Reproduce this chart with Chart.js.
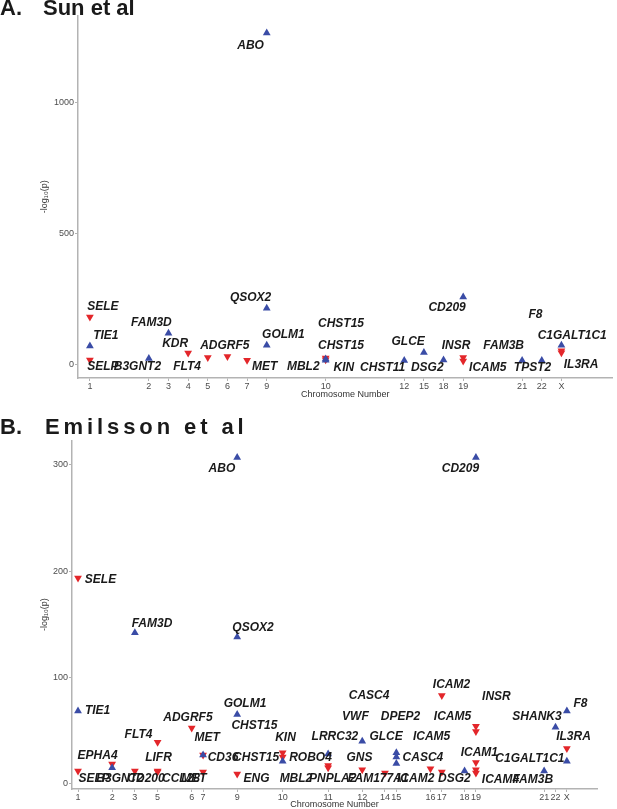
<!DOCTYPE html>
<html>
<head>
<meta charset="utf-8">
<script src="https://cdn.jsdelivr.net/npm/chart.js@4.4.1/dist/chart.umd.min.js"></script>
<style>
  html, body { margin: 0; padding: 0; background: #fff; }
  #wrap { position: relative; width: 617px; height: 809px; overflow: hidden; font-family: 'Liberation Sans', Arial, sans-serif; }
  .ttl { position: absolute; font-weight: bold; font-size: 22px; line-height: 22px; color: #1a1a1a; white-space: nowrap; }
  canvas { position: absolute; left: 0; }
</style>
</head>
<body>
<div id="wrap">
  <canvas id="chartA" width="617" height="404" style="top:0"></canvas>
  <canvas id="chartB" width="617" height="405" style="top:404px"></canvas>
  <div class="ttl" style="left:0;top:-3px">A.</div>
  <div class="ttl" style="left:43px;top:-3px">Sun et al</div>
  <div class="ttl" style="left:0;top:416px">B.</div>
  <div class="ttl" style="left:45px;top:416px;letter-spacing:3.9px">Emilsson et al</div>
</div>
<script>
// ===========================
// Panel A: Sun et al
// ===========================
const chrLabelsA = ['1','2','3','4','5','6','7','9','10','12','15','18','19','21','22','X'];
const chrPosA    = [0, 3, 4, 5, 6, 7, 8, 9, 12, 16, 17, 18, 19, 22, 23, 24];
const yTicksA    = [0, 500, 1000];

// blue up-triangles
const upChrA = ['1','2','3','9','9','9','10','10','12','15','18','19','21','22','X'];
const upValA = [70, 22, 119, 1263, 214, 73, 20, 16, 15, 45, 17, 257, 15, 15, 73];

// red down-triangles
const downChrA = ['1','1','4','5','6','7','10','10','19','19','X','X'];
const downValA = [181, 17, 43, 26, 30, 16, 24, 18, 26, 13, 52, 44];

const labelTextA = ['ABO','SELE','TIE1','SELP','B3GNT2','FAM3D','KDR','FLT4','ADGRF5','MET','QSOX2','GOLM1','MBL2',
                    'CHST15','CHST15','KIN','CHST11','GLCE','DSG2','INSR','ICAM5','CD209','FAM3B','TPST2','F8','C1GALT1C1','IL3RA'];
const labelXA = [8.18, 0.66, 0.81, 0.66, 2.42, 3.13, 4.34, 4.95, 6.87, 8.89, 8.18, 9.85, 10.86,
                 12.78, 12.78, 12.93, 14.9, 16.2, 17.17, 18.64, 20.25, 18.18, 21.06, 22.53, 22.68, 24.55, 25.0];
const labelYA = [1214, 219, 109, -10, -10, 158, 78, -10, 70, -10, 253, 112, -10,
                 154, 70, -13, -13, 86, -13, 70, -13, 215, 70, -13, 189, 109, -2];

// ===========================
// Panel B: Emilsson et al
// ===========================
const chrLabelsB = ['1','2','3','5','6','7','9','10','11','12','14','15','16','17','18','19','21','22','X'];
const chrPosB    = [0, 3, 5, 7, 10, 11, 14, 18, 22, 25, 27, 28, 31, 32, 34, 35, 41, 42, 43];
const yTicksB    = [0, 100, 200, 300];

const upChrB = ['1','2','3','7','9','9','9','10','11','12','15','15','15','18','19','21','22','X','X'];
const upValB = [68.5, 15, 142, 27, 307, 138, 65, 21, 28, 40, 29, 25, 19, 12, 307, 12, 53, 68.5, 21];

const downChrB = ['1','1','2','3','5','5','5','6','7','7','9','10','10','11','11','12','14','16','17','17','19','19','19','19','19','X'];
const downValB = [193.5, 12, 18.5, 12, 39, 12, 11, 52.5, 27, 11, 9, 29, 25, 17, 15, 13, 10, 14, 83, 11, 54, 49, 20, 13, 10, 33];

const labelTextB = ['ABO','CD209','SELE','FAM3D','QSOX2','TIE1','GOLM1','CHST15','ADGRF5','FLT4','MET','KIN',
                    'EPHA4','LIFR','CD36','CHST15','ROBO4','LRRC32','GNS','GLCE','VWF','DPEP2','CASC4','CASC4',
                    'ICAM5','ICAM5','ICAM2','INSR','ICAM1','C1GALT1C1','SHANK3','F8','IL3RA',
                    'SELP','B3GNT2','CD200','CCL28','MET','ENG','MBL2','PNPLA2','FAM177A1','ICAM2','DSG2','ICAM4','FAM3B'];
const labelXB = [12.66, 33.64, 1.98, 6.51, 15.39, 1.72, 14.69, 15.52, 9.67, 5.32, 11.35, 18.25,
                 1.72, 7.08, 12.75, 15.66, 20.45, 22.6, 24.76, 27.1, 24.4, 28.36, 25.6, 30.34,
                 31.1, 32.94, 32.85, 36.8, 35.3, 39.75, 40.37, 44.2, 43.58,
                 1.41, 3.69, 5.98, 9.06, 10.2, 15.7, 19.17, 22.4, 26.4, 29.7, 33.1, 37.16, 40.0];
const labelYB = [296, 296, 192, 151, 146.5, 68.4, 75, 54.3, 61.8, 45.8, 43, 43,
                 26, 24.2, 24.2, 24.2, 24.2, 44, 24.2, 44, 62.8, 62.8, 82.5, 24.2,
                 44, 62.8, 92.9, 81.6, 28.9, 23.2, 62.8, 75, 44,
                 4.4, 4.4, 4.4, 4.4, 4.4, 4.4, 4.4, 4.4, 4.4, 4.4, 4.4, 3.5, 3.5];

// ===========================
// Shared helpers
// ===========================
const BLUE = '#3a4ca6';
const RED = '#e3262a';
const AXIS = '#b3b3b3';
const TICK_TEXT = '#4d4d4d';

function toPoints(chrs, vals, labels, pos) {
    return chrs.map((c, i) => ({ x: pos[labels.indexOf(c)], y: vals[i] }));
}

function geneLabels(texts, xs, ys) {
    return {
        id: 'geneLabels',
        afterDatasetsDraw(chart) {
            const { ctx, scales: { x, y } } = chart;
            ctx.save();
            ctx.font = 'italic bold 12px "Liberation Sans", Arial, sans-serif';
            ctx.fillStyle = '#1a1a1a';
            ctx.textAlign = 'center';
            ctx.textBaseline = 'middle';
            texts.forEach((t, i) => ctx.fillText(t, x.getPixelForValue(xs[i]), y.getPixelForValue(ys[i])));
            ctx.restore();
        }
    };
}

function makeChart(id, p) {
    return new Chart(document.getElementById(id), {
        type: 'scatter',
        data: {
            datasets: [{
                data: toPoints(p.upChr, p.upVal, p.chrLabels, p.chrPos),
                pointStyle: 'triangle',
                pointRadius: 4.5,
                backgroundColor: BLUE,
                borderColor: BLUE,
                borderWidth: 0
            }, {
                data: toPoints(p.downChr, p.downVal, p.chrLabels, p.chrPos),
                pointStyle: 'triangle',
                pointRotation: 180,
                pointRadius: 4.5,
                backgroundColor: RED,
                borderColor: RED,
                borderWidth: 0
            }]
        },
        options: {
            responsive: false,
            animation: false,
            layout: { padding: { left: 0, right: p.padRight, top: p.padTop, bottom: 0 } },
            plugins: { legend: { display: false }, tooltip: { enabled: false } },
            scales: {
                x: {
                    type: 'linear',
                    min: p.xMin,
                    max: p.xMax,
                    afterFit: s => { s.height = p.xHeight; },
                    afterBuildTicks: s => { s.ticks = p.chrPos.map(v => ({ value: v })); },
                    ticks: {
                        autoSkip: false,
                        maxRotation: 0,
                        padding: 0,
                        color: TICK_TEXT,
                        font: { size: 9, family: 'Liberation Sans' },
                        callback: v => p.chrLabels[p.chrPos.indexOf(v)]
                    },
                    grid: { drawOnChartArea: false, tickLength: 3, color: AXIS },
                    border: { color: AXIS, width: 1.5 },
                    title: {
                        display: true,
                        text: 'Chromosome Number',
                        color: '#333',
                        font: { size: 9, family: 'Liberation Sans', lineHeight: 1 },
                        padding: { top: 0, bottom: p.xTitlePad }
                    }
                },
                y: {
                    min: p.yMin,
                    max: p.yMax,
                    afterFit: s => { s.width = p.yWidth; },
                    afterBuildTicks: s => { s.ticks = p.yTicks.map(v => ({ value: v })); },
                    ticks: {
                        padding: 1,
                        color: TICK_TEXT,
                        font: { size: 9, family: 'Liberation Sans' },
                        callback: v => String(v)
                    },
                    grid: { drawOnChartArea: false, tickLength: 3, color: AXIS },
                    border: { color: AXIS, width: 1.5 },
                    title: {
                        display: true,
                        text: '-log\u2081\u2080(p)',
                        color: '#333',
                        font: { size: 9, family: 'Liberation Sans', lineHeight: 1 },
                        padding: { top: 40.5, bottom: 0 }
                    }
                }
            }
        },
        plugins: [geneLabels(p.labelText, p.labelX, p.labelY)]
    });
}

makeChart('chartA', {
    chrLabels: chrLabelsA, chrPos: chrPosA, yTicks: yTicksA,
    upChr: upChrA, upVal: upValA, downChr: downChrA, downVal: downValA,
    labelText: labelTextA, labelX: labelXA, labelY: labelYA,
    xMin: -0.606, xMax: 26.6, yMin: -52, yMax: 1330,
    padTop: 15.5, padRight: 0, xHeight: 26, yWidth: 78, xTitlePad: 4.5
});

makeChart('chartB', {
    chrLabels: chrLabelsB, chrPos: chrPosB, yTicks: yTicksB,
    upChr: upChrB, upVal: upValB, downChr: downChrB, downVal: downValB,
    labelText: labelTextB, labelX: labelXB, labelY: labelYB,
    xMin: -0.53, xMax: 45.65, yMin: -5, yMax: 323,
    padTop: 36.4, padRight: 20, xHeight: 20, yWidth: 72, xTitlePad: 0
});
</script>
</body>
</html>
